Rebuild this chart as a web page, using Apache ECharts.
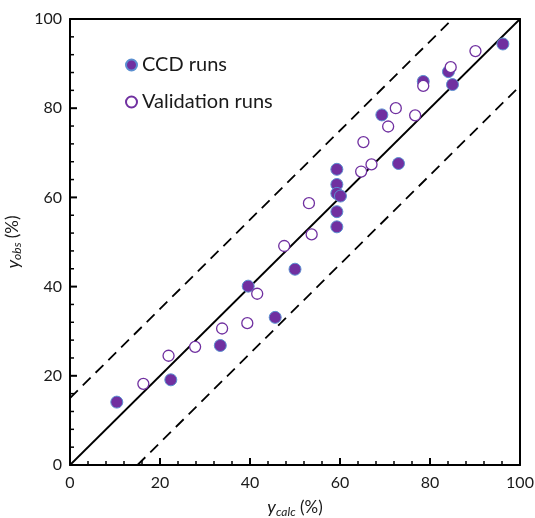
<!DOCTYPE html>
<html><head><meta charset="utf-8">
<script src="https://cdn.jsdelivr.net/npm/echarts@6/dist/echarts.min.js"></script>
<style>html,body{margin:0;padding:0;background:#fff}#c{width:535px;height:518px}</style>
</head><body><div id="c"></div>
<script>
const ccdX = [10.4, 22.4, 33.4, 39.6, 45.6, 50.0, 59.3, 59.3, 59.3, 60.1, 59.3, 59.3, 69.3, 73.0, 78.5, 84.1, 85.0, 96.2];
const ccdY = [14.1, 19.1, 26.8, 40.1, 33.1, 43.9, 66.3, 62.9, 60.9, 60.3, 56.8, 53.4, 78.5, 67.6, 86.0, 88.2, 85.3, 94.4];
const valX = [16.3, 21.9, 27.8, 33.8, 39.4, 41.6, 47.6, 53.1, 53.7, 64.7, 67.0, 65.2, 70.7, 76.7, 72.4, 78.5, 84.6, 90.1];
const valY = [18.2, 24.5, 26.5, 30.6, 31.8, 38.4, 49.1, 58.7, 51.7, 65.8, 67.4, 72.4, 75.9, 78.4, 80.0, 85.0, 89.2, 92.8];
const parityX = [0, 100], parityY = [0, 100];
const upperX = [0, 85], upperY = [15, 100];
const lowerX = [15, 100], lowerY = [0, 85];
const majorTicks = [0, 20, 40, 60, 80, 100];
const minorTicks = [4, 8, 12, 16, 24, 28, 32, 36, 44, 48, 52, 56, 64, 68, 72, 76, 84, 88, 92, 96];
const seriesNames = ['CCD runs', 'Validation runs'];

const zip = (a, b) => a.map((v, i) => [v, b[i]]);
const onX = a => a.map(v => [v, 0]);
const onY = a => a.map(v => [0, v]);
const FONT = 'Lato';
const TXT = '#1a1a1a';
const chart = echarts.init(document.getElementById('c'));
function mainAxis(extra) {
  return Object.assign({
    type: 'value', min: 0, max: 100, interval: 20,
    axisLine: {show: true, onZero: false, lineStyle: {color: '#000', width: 2}},
    axisTick: {show: false},
    splitLine: {show: false},
    axisLabel: {show: true, fontFamily: FONT, fontSize: 16, color: TXT}
  }, extra);
}
const frameAxis = (pos) => ({
  type: 'value', min: 0, max: 100, position: pos,
  axisLine: {show: true, onZero: false, lineStyle: {color: '#000', width: 2}},
  axisTick: {show: false}, axisLabel: {show: false}, splitLine: {show: false}
});
const nameRich = {
  i: {fontStyle: 'italic', fontSize: 18, fontFamily: FONT, color: TXT},
  s: {fontStyle: 'italic', fontSize: 12, fontFamily: FONT, color: TXT, padding: [9, 0, 0, 0]},
  n: {fontSize: 17, fontFamily: FONT, color: TXT}
};
const tickSeries = (data, size, offset) => ({
  type: 'scatter', data: data, symbol: 'rect', symbolSize: size, symbolOffset: offset,
  itemStyle: {color: '#000', opacity: 1}, silent: true, clip: false, z: 6,
  emphasis: {disabled: true}
});
chart.setOption({
  animation: false,
  grid: {left: 70, right: 15, top: 19, bottom: 53, outerBoundsMode: 'none'},
  legend: {
    orient: 'vertical', left: 120, top: 50, itemWidth: 11, itemHeight: 11, itemGap: 17,
    data: seriesNames,
    textStyle: {fontFamily: FONT, fontSize: 20, color: TXT}
  },
  xAxis: [mainAxis({
    position: 'bottom',
    axisLabel: {show: true, fontFamily: FONT, fontSize: 16, color: TXT, margin: 10},
    name: '{i|y}{s|calc}{n| (%)}', nameLocation: 'middle', nameGap: 32,
    nameTextStyle: {fontFamily: FONT, fontSize: 17, color: TXT, rich: nameRich}
  }), frameAxis('top')],
  yAxis: [mainAxis({
    position: 'left',
    name: '{i|y}{s|obs}{n| (%)}', nameLocation: 'middle', nameGap: 43,
    nameTextStyle: {fontFamily: FONT, fontSize: 17, color: TXT, rich: nameRich}
  }), frameAxis('right')],
  series: [
    {type: 'line', data: zip(parityX, parityY), symbol: 'none',
     lineStyle: {color: '#000', width: 1.8}, z: 1},
    {type: 'line', data: zip(upperX, upperY), symbol: 'none',
     lineStyle: {color: '#000', width: 1.8, type: [11, 7]}, z: 1},
    {type: 'line', data: zip(lowerX, lowerY), symbol: 'none',
     lineStyle: {color: '#000', width: 1.8, type: [11, 7]}, z: 1},
    {name: seriesNames[0], type: 'scatter', data: zip(ccdX, ccdY), symbol: 'circle', symbolSize: 12,
     itemStyle: {color: '#7030A0', borderColor: '#5b8fd0', borderWidth: 1, opacity: 1}, z: 3},
    {name: seriesNames[1], type: 'scatter', data: zip(valX, valY), symbol: 'circle', symbolSize: 11,
     itemStyle: {color: '#fff', borderColor: '#7030A0', borderWidth: 1.3, opacity: 1}, z: 4},
    tickSeries(onX(majorTicks), [2, 7], [0, -3.5]),
    tickSeries(onX(minorTicks), [1.5, 4], [0, -2]),
    tickSeries(onY(majorTicks), [7, 2], [3.5, 0]),
    tickSeries(onY(minorTicks), [4, 1.5], [2, 0])
  ]
});
</script></body></html>
